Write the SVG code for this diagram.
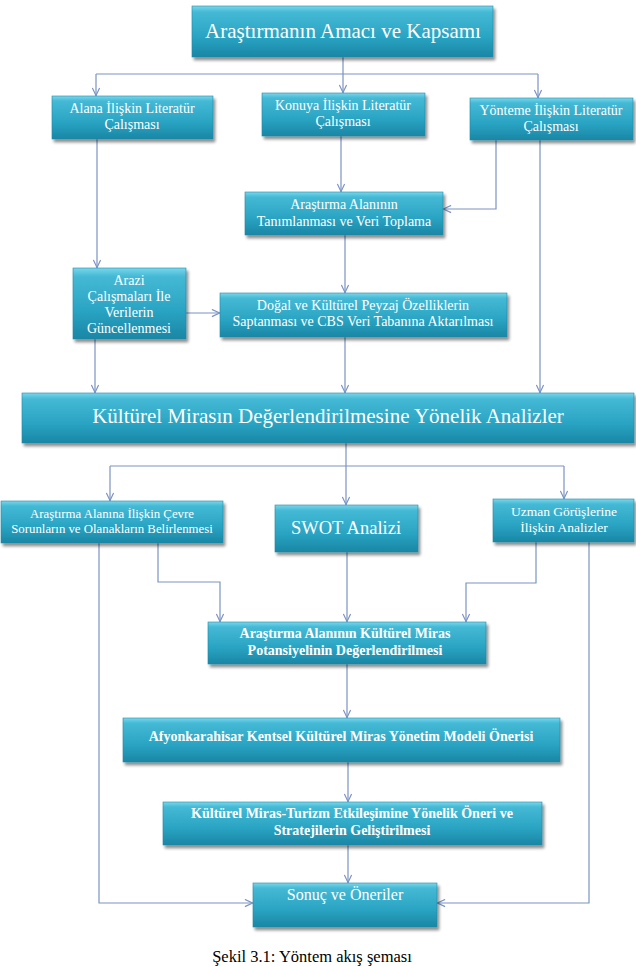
<svg xmlns="http://www.w3.org/2000/svg" width="636" height="966" viewBox="0 0 636 966">
<style>
.box{fill:url(#g);stroke:#1e8aa6;stroke-width:0.6;filter:url(#sh)}
.t{font-family:'Liberation Serif','Times New Roman',serif;fill:#ffffff;text-anchor:middle}
.b{font-weight:bold}
.c{fill:none;stroke:#7b93c4;stroke-width:1.2}
.cap{font-family:'Liberation Serif','Times New Roman',serif;fill:#000;text-anchor:middle}
</style>
<defs>
<linearGradient id="g" x1="0" y1="0" x2="0" y2="1">
<stop offset="0" stop-color="#7ad6ea"/>
<stop offset="0.12" stop-color="#44b9d5"/>
<stop offset="0.6" stop-color="#2aa4c3"/>
<stop offset="1" stop-color="#1a86a5"/>
</linearGradient>
<filter id="sh" x="-10%" y="-20%" width="125%" height="160%">
<feGaussianBlur in="SourceAlpha" stdDeviation="1.5"/>
<feOffset dx="2" dy="3" result="o"/>
<feComponentTransfer><feFuncA type="linear" slope="0.45"/></feComponentTransfer>
<feMerge><feMergeNode/><feMergeNode in="SourceGraphic"/></feMerge>
</filter>
<marker id="a" viewBox="0 0 10 10" refX="10" refY="5" markerWidth="9" markerHeight="9" markerUnits="userSpaceOnUse" orient="auto">
<path d="M1,1 L9.5,5 L1,9" fill="none" stroke="#7b93c4" stroke-width="1.3"/>
</marker>
</defs>
<g id="connectors">
<path class="c" d="M343,57 V74 M96,74 H538"/>
<path class="c" d="M96,74 V96" marker-end="url(#a)"/>
<path class="c" d="M343,74 V93" marker-end="url(#a)"/>
<path class="c" d="M538,74 V98" marker-end="url(#a)"/>
<path class="c" d="M97,139 V268" marker-end="url(#a)"/>
<path class="c" d="M341,136 V192" marker-end="url(#a)"/>
<path class="c" d="M496,140 V209 H443" marker-end="url(#a)"/>
<path class="c" d="M540,140 V393" marker-end="url(#a)"/>
<path class="c" d="M345,235 V293" marker-end="url(#a)"/>
<path class="c" d="M186,313 H220" marker-end="url(#a)"/>
<path class="c" d="M95,339 V393" marker-end="url(#a)"/>
<path class="c" d="M345,337 V393" marker-end="url(#a)"/>
<path class="c" d="M346,443 V466 M110,466 H564"/>
<path class="c" d="M110,466 V501" marker-end="url(#a)"/>
<path class="c" d="M346,466 V505" marker-end="url(#a)"/>
<path class="c" d="M564,466 V499" marker-end="url(#a)"/>
<path class="c" d="M99,543 V903 H253" marker-end="url(#a)"/>
<path class="c" d="M158,543 V582 H220 V622" marker-end="url(#a)"/>
<path class="c" d="M347,552 V622" marker-end="url(#a)"/>
<path class="c" d="M536,542 V583 H466 V622" marker-end="url(#a)"/>
<path class="c" d="M589,542 V903 H437" marker-end="url(#a)"/>
<path class="c" d="M347,664 V718" marker-end="url(#a)"/>
<path class="c" d="M348,762 V802" marker-end="url(#a)"/>
<path class="c" d="M348,845 V883" marker-end="url(#a)"/>
</g>
<g id="n1"><rect class="box" x="192" y="6" width="301" height="51"/><text class="t" x="343" y="38" font-size="21">Araştırmanın Amacı ve Kapsamı</text></g>
<g id="n2"><rect class="box" x="52" y="96" width="161" height="43"/><text class="t" x="132" y="113" font-size="14">Alana İlişkin Literatür</text><text class="t" x="132" y="129" font-size="14">Çalışması</text></g>
<g id="n3"><rect class="box" x="262" y="93" width="163" height="43"/><text class="t" x="343" y="110" font-size="14">Konuya İlişkin Literatür</text><text class="t" x="343" y="126" font-size="14">Çalışması</text></g>
<g id="n4"><rect class="box" x="470" y="98" width="163" height="42"/><text class="t" x="551" y="115" font-size="14">Yönteme İlişkin Literatür</text><text class="t" x="551" y="131" font-size="14">Çalışması</text></g>
<g id="n5"><rect class="box" x="245" y="192" width="198" height="43"/><text class="t" x="344" y="209" font-size="14">Araştırma Alanının</text><text class="t" x="344" y="226" font-size="14">Tanımlanması ve Veri Toplama</text></g>
<g id="n6"><rect class="box" x="73" y="268" width="113" height="71"/><text class="t" x="129" y="285" font-size="14">Arazi</text><text class="t" x="129" y="301" font-size="14">Çalışmaları İle</text><text class="t" x="129" y="317" font-size="14">Verilerin</text><text class="t" x="129" y="333" font-size="14">Güncellenmesi</text></g>
<g id="n7"><rect class="box" x="220" y="293" width="287" height="44"/><text class="t" x="363" y="310" font-size="14">Doğal ve Kültürel Peyzaj Özelliklerin</text><text class="t" x="363" y="326" font-size="14">Saptanması ve CBS Veri Tabanına Aktarılması</text></g>
<g id="n8"><rect class="box" x="22" y="393" width="612" height="50"/><text class="t" x="328" y="423" font-size="21">Kültürel Mirasın Değerlendirilmesine Yönelik Analizler</text></g>
<g id="n9"><rect class="box" x="1" y="501" width="222" height="42"/><text class="t" x="112" y="518" font-size="12.8">Araştırma Alanına İlişkin Çevre</text><text class="t" x="112" y="533" font-size="12.8">Sorunların ve Olanakların Belirlenmesi</text></g>
<g id="n10"><rect class="box" x="275" y="505" width="143" height="47"/><text class="t" x="346" y="534" font-size="18.5">SWOT Analizi</text></g>
<g id="n11"><rect class="box" x="493" y="499" width="141" height="43"/><text class="t" x="564" y="516" font-size="13.5">Uzman Görüşlerine</text><text class="t" x="564" y="532" font-size="13.5">İlişkin Analizler</text></g>
<g id="n12"><rect class="box" x="208" y="622" width="278" height="42"/><text class="t b" x="345" y="638" font-size="14">Araştırma Alanının Kültürel Miras</text><text class="t b" x="345" y="655" font-size="14">Potansiyelinin Değerlendirilmesi</text></g>
<g id="n13"><rect class="box" x="123" y="718" width="437" height="44"/><text class="t b" x="341" y="741" font-size="14">Afyonkarahisar Kentsel Kültürel Miras Yönetim Modeli Önerisi</text></g>
<g id="n14"><rect class="box" x="163" y="802" width="379" height="43"/><text class="t b" x="352" y="818" font-size="14">Kültürel Miras-Turizm Etkileşimine Yönelik Öneri ve</text><text class="t b" x="352" y="835" font-size="14">Stratejilerin Geliştirilmesi</text></g>
<g id="n15"><rect class="box" x="253" y="883" width="184" height="44"/><text class="t" x="345" y="900" font-size="16">Sonuç ve Öneriler</text></g>
<text class="cap" x="312" y="962" font-size="16.5">Şekil 3.1: Yöntem akış şeması</text>
</svg>
